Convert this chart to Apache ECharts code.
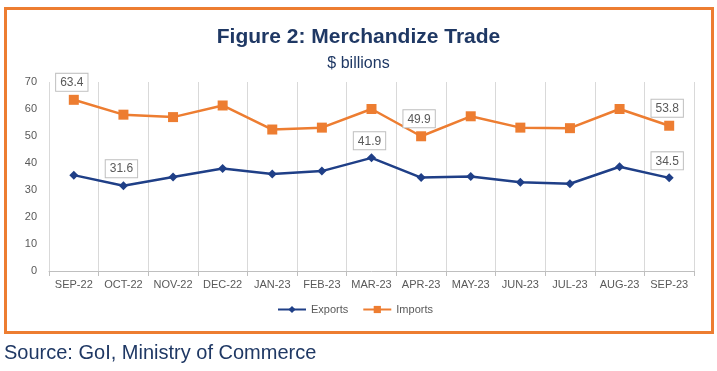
<!DOCTYPE html>
<html>
<head>
<meta charset="utf-8">
<script src="https://cdn.jsdelivr.net/npm/echarts@6/dist/echarts.min.js"></script>
<style>
html,body{margin:0;padding:0;background:#fff;}
#c{width:717px;height:371px;}
</style>
</head>
<body>
<div id="c"></div>
<script>
const categories = ['SEP-22','OCT-22','NOV-22','DEC-22','JAN-23','FEB-23','MAR-23','APR-23','MAY-23','JUN-23','JUL-23','AUG-23','SEP-23'];
const exportsData = [35.5, 31.6, 34.8, 38.0, 35.9, 37.0, 41.9, 34.6, 35.0, 32.9, 32.3, 38.6, 34.5];
const importsData = [63.4, 57.9, 57.0, 61.3, 52.4, 53.1, 60.0, 49.9, 57.3, 53.1, 52.9, 60.0, 53.8];
const exportsLabeled = [1, 6, 12];
const importsLabeled = [0, 7, 12];
const yTicks = [0, 10, 20, 30, 40, 50, 60, 70];

const labelStyle = {
  show: true, position: 'top', distance: 4, offset: [-2, 0],
  color: '#595959', fontSize: 12, fontFamily: 'Liberation Sans',
  backgroundColor: '#fff', borderColor: '#bfbfbf', borderWidth: 1,
  padding: [3, 4, 2, 4], formatter: p => p.value.toFixed(1)
};
function build(arr, labeled) {
  return arr.map((v, i) => labeled.includes(i) ? { value: v, label: labelStyle } : v);
}

const chart = echarts.init(document.getElementById('c'), null, { renderer: 'canvas' });
chart.setOption({
  animation: false,
  backgroundColor: '#fff',
  title: [
    { text: 'Figure 2: Merchandize Trade', left: 'center', top: 22,
      textStyle: { color: '#1F3864', fontSize: 21, fontWeight: 'bold', fontFamily: 'Liberation Sans' } },
    { text: '$ billions', left: 'center', top: 51,
      textStyle: { color: '#1F3864', fontSize: 16, fontWeight: 'normal', fontFamily: 'Liberation Sans' } }
  ],
  graphic: [
    { type: 'rect', shape: { x: 5.5, y: 8.5, width: 707, height: 324 },
      style: { fill: 'none', stroke: '#ED7D31', lineWidth: 3 }, silent: true },
    { type: 'text', left: 4, top: 343,
      style: { text: 'Source: GoI, Ministry of Commerce', fill: '#1F3864', fontSize: 20, fontFamily: 'Liberation Sans' } }
  ],
  legend: {
    top: 299, left: 272, itemWidth: 28, itemHeight: 9, itemGap: 14,
    textStyle: { color: '#595959', fontSize: 11, fontFamily: 'Liberation Sans' },
    data: ['Exports', 'Imports']
  },
  grid: { left: 49, right: 23, top: 82, bottom: 100 },
  xAxis: {
    type: 'category', data: categories, boundaryGap: true,
    axisLine: { lineStyle: { color: '#bfbfbf', width: 1 } },
    axisTick: { show: true, length: 5, lineStyle: { color: '#bfbfbf' } },
    splitLine: { show: true, lineStyle: { color: '#d9d9d9', width: 1 } },
    axisLabel: { color: '#595959', fontSize: 11, fontFamily: 'Liberation Sans', margin: 8, interval: 0 }
  },
  yAxis: {
    type: 'value', min: 0, max: 70, interval: 10,
    axisLine: { show: false }, axisTick: { show: false },
    splitLine: { show: false },
    axisLabel: { color: '#595959', fontSize: 11, fontFamily: 'Liberation Sans', margin: 12,
      formatter: v => yTicks.includes(v) ? String(v) : '' }
  },
  series: [
    { name: 'Exports', type: 'line', data: build(exportsData, exportsLabeled),
      symbol: 'diamond', symbolSize: 9, color: '#1F3F87',
      lineStyle: { width: 2.5, color: '#1F3F87' }, itemStyle: { color: '#1F3F87' } },
    { name: 'Imports', type: 'line', data: build(importsData, importsLabeled),
      symbol: 'rect', symbolSize: 10, color: '#ED7D31',
      lineStyle: { width: 2.5, color: '#ED7D31' }, itemStyle: { color: '#ED7D31' } }
  ]
});
</script>
</body>
</html>
